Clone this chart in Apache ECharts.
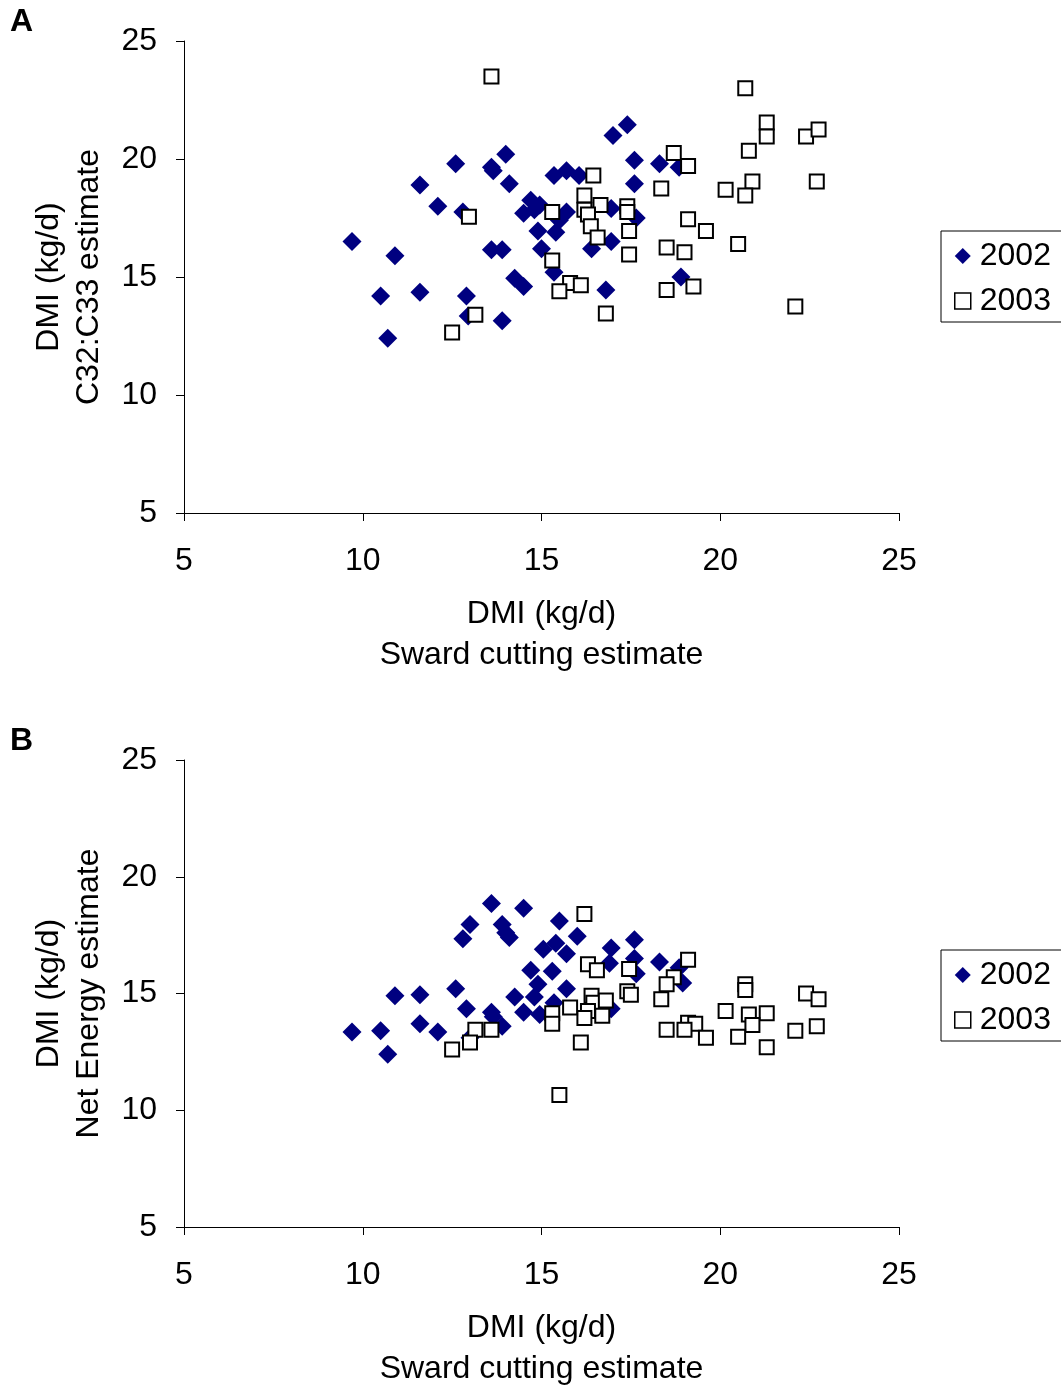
<!DOCTYPE html>
<html>
<head>
<meta charset="utf-8">
<title>DMI estimates</title>
<script src="https://cdn.jsdelivr.net/npm/echarts@6/dist/echarts.min.js"></script>
<style>
  html, body { margin: 0; padding: 0; background: #fff; }
  #chart { width: 1061px; height: 1391px; }
</style>
</head>
<body>
<div id="chart"></div>
<script>
// Panel A: DMI from C32:C33 alkane ratio vs sward cutting estimate
const panelA2002 = [
  [9.7,16.5],[10.5,14.2],[10.7,12.4],[10.9,15.9],[11.6,18.9],[11.6,14.35],[12.1,18.0],
  [12.6,19.8],[12.8,17.75],[12.9,14.2],[12.95,13.35],[13.6,19.65],[13.65,19.5],[13.6,16.15],
  [13.9,16.15],[13.9,13.15],[14.0,20.2],[14.1,18.95],[14.25,14.95],[14.5,14.6],[14.7,18.25],
  [14.95,18.05],[14.5,17.7],[14.8,17.85],[14.9,16.95],[15.0,16.2],[15.35,15.2],[15.4,16.9],
  [15.35,19.3],[15.7,19.5],[16.05,19.3],[15.7,17.75],[15.5,17.4],[16.4,16.2],[16.95,16.5],
  [16.95,17.9],[16.8,14.45],[17.0,21.0],[17.4,21.45],[17.6,19.95],[17.6,18.95],[17.65,17.5],
  [18.3,19.8],[18.85,19.65],[18.9,15.0]
];
const panelA2003 = [
  [13.6,23.5],[16.45,19.3],[16.2,18.45],[16.65,18.05],[15.3,17.75],[16.2,17.85],[16.3,17.65],
  [16.38,17.15],[16.57,16.67],[12.97,17.55],[15.3,15.7],[15.8,14.75],[16.1,14.65],[15.5,14.4],
  [16.8,13.45],[13.15,13.4],[12.5,12.65],
  [20.7,23.0],[21.3,21.55],[21.3,20.95],[22.4,20.95],[22.75,21.25],[20.8,20.35],[18.7,20.25],
  [19.1,19.7],[18.35,18.75],[20.15,18.7],[20.9,19.05],[20.7,18.45],[22.7,19.05],[17.4,18.0],
  [17.4,17.75],[19.1,17.45],[19.6,16.95],[17.45,16.95],[17.45,15.95],[18.5,16.25],[19.0,16.05],
  [20.5,16.4],[18.5,14.45],[19.25,14.6],[22.1,13.75]
];

// Panel B: DMI from net energy requirements vs sward cutting estimate
const panelB2002 = [
  [9.7,13.35],[10.5,13.4],[10.7,12.4],[10.9,14.9],[11.6,14.95],[11.6,13.7],[12.1,13.35],
  [12.6,15.2],[12.8,17.35],[12.9,14.35],[13.0,17.95],[13.6,18.85],[13.6,14.2],[13.65,14.0],
  [13.9,17.95],[14.0,17.6],[14.1,17.4],[13.9,13.6],[14.25,14.85],[14.5,18.65],[14.5,14.2],
  [14.7,16.0],[14.8,14.85],[14.9,15.4],[14.95,14.1],[15.05,16.9],[15.3,15.95],[15.4,17.15],
  [15.5,18.1],[15.7,16.7],[15.7,15.2],[16.0,17.45],[15.35,14.6],[16.95,16.95],[16.9,16.3],
  [16.95,14.35],[17.6,17.3],[17.6,16.5],[17.65,15.85],[18.3,16.35],[18.85,16.1],[18.95,15.45],
  [13.0,13.1]
];
const panelB2003 = [
  [16.2,18.4],[16.3,16.25],[16.55,16.0],[17.45,16.05],[17.4,15.1],[17.5,14.95],[19.1,16.45],
  [18.7,15.7],[18.5,15.4],[18.35,14.75],[16.4,14.9],[16.45,14.6],[16.8,14.7],[16.7,14.05],
  [16.3,14.25],[16.2,13.95],[15.8,14.4],[15.3,14.15],[15.3,13.7],[13.15,13.45],[13.6,13.45],
  [13.0,12.9],[12.5,12.6],[16.1,12.9],[15.5,10.65],
  [20.7,15.4],[20.7,15.15],[22.4,15.0],[22.75,14.75],[20.15,14.25],[20.8,14.1],[21.3,14.15],
  [20.9,13.65],[20.5,13.15],[21.3,12.7],[19.1,13.75],[19.3,13.7],[18.5,13.45],[19.0,13.45],
  [19.6,13.1],[22.1,13.4],[22.7,13.6]
];

const years = ['2002', '2003'];
const axisMin = 5, axisMax = 25, axisStep = 5;
const xTitle = 'DMI (kg/d)\nSward cutting estimate';
const yTitleA = 'DMI (kg/d)\nC32:C33 estimate';
const yTitleB = 'DMI (kg/d)\nNet Energy estimate';

const FONT = '"Liberation Sans", Arial, sans-serif';
const NAVY = '#000080';
const TEXT_SIZE = 32;

function xAxisFor(gridIndex) {
  return {
    gridIndex, type: 'value', min: axisMin, max: axisMax, interval: axisStep,
    axisLine: { show: true, onZero: false, lineStyle: { color: '#000', width: 1 } },
    axisTick: { show: true, length: 8, lineStyle: { color: '#000' } },
    axisLabel: { fontSize: TEXT_SIZE, color: '#000', fontFamily: FONT, margin: 32 },
    splitLine: { show: false },
    name: xTitle, nameLocation: 'middle', nameGap: 81,
    nameTextStyle: { fontSize: TEXT_SIZE, color: '#000', fontFamily: FONT, lineHeight: 41 }
  };
}
function yAxisFor(gridIndex, title) {
  return {
    gridIndex, type: 'value', min: axisMin, max: axisMax, interval: axisStep,
    axisLine: { show: true, onZero: false, lineStyle: { color: '#000', width: 1 } },
    axisTick: { show: true, length: 8, lineStyle: { color: '#000' } },
    axisLabel: { fontSize: TEXT_SIZE, color: '#000', fontFamily: FONT, margin: 27 },
    splitLine: { show: false },
    name: title, nameLocation: 'middle', nameGap: 75, nameRotate: 90,
    nameTextStyle: { fontSize: TEXT_SIZE, color: '#000', fontFamily: FONT, lineHeight: 40 }
  };
}
function diamondSeries(data, idx) {
  return {
    name: years[0], type: 'scatter', xAxisIndex: idx, yAxisIndex: idx, data,
    symbol: 'diamond', symbolSize: 19, z: 2,
    itemStyle: { color: NAVY, opacity: 1 }
  };
}
function squareSeries(data, idx) {
  return {
    name: years[1], type: 'scatter', xAxisIndex: idx, yAxisIndex: idx, data,
    symbol: 'rect', symbolSize: 14, z: 3,
    itemStyle: { color: '#fff', borderColor: '#000', borderWidth: 2, opacity: 1 }
  };
}
function legendAt(top) {
  return {
    data: [
      { name: years[0], icon: 'diamond', itemStyle: { color: NAVY, borderWidth: 0 } },
      { name: years[1], icon: 'rect', itemStyle: { color: '#fff', borderColor: '#000', borderWidth: 1.5 } }
    ],
    orient: 'vertical', left: 941, top,
    itemWidth: 16, itemHeight: 16, itemGap: 11,
    padding: [8, 30, 4, 13],
    borderColor: '#000', borderWidth: 1,
    selectedMode: false,
    textStyle: { fontSize: TEXT_SIZE, color: '#000', fontFamily: FONT, lineHeight: 34, padding: [0, 0, 0, 4] }
  };
}

const chart = echarts.init(document.getElementById('chart'), null, { renderer: 'canvas' });
chart.setOption({
  backgroundColor: '#fff',
  animation: false,
  grid: [
    { left: 184, top: 41, width: 715, height: 472 },
    { left: 184, top: 760, width: 715, height: 472 }
  ],
  xAxis: [xAxisFor(0), xAxisFor(1)],
  yAxis: [yAxisFor(0, yTitleA), yAxisFor(1, yTitleB)],
  legend: [legendAt(231), legendAt(950)],
  series: [
    diamondSeries(panelA2002, 0), squareSeries(panelA2003, 0),
    diamondSeries(panelB2002, 1), squareSeries(panelB2003, 1)
  ],
  graphic: [
    { type: 'text', left: 10, top: 6, style: { text: 'A', fontSize: 32, fontWeight: 'bold', fill: '#000', fontFamily: FONT } },
    { type: 'text', left: 10, top: 725, style: { text: 'B', fontSize: 32, fontWeight: 'bold', fill: '#000', fontFamily: FONT } }
  ]
});
</script>
</body>
</html>
